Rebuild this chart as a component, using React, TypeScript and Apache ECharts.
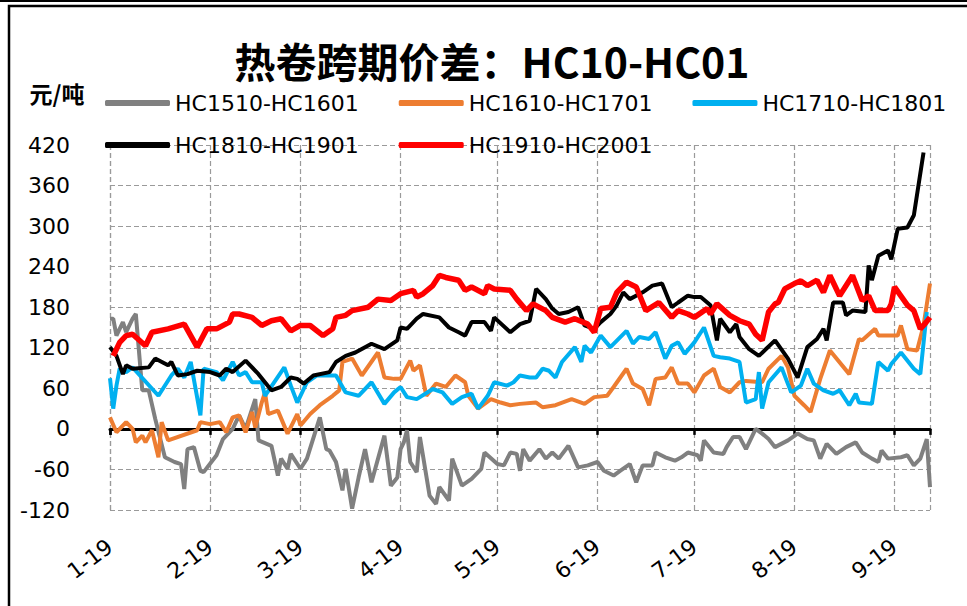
import React, { useEffect, useRef } from "react";
import * as echarts from "echarts";

// x values: day offset from 1 Jan (all contracts plotted on a common month-day axis, labelled as 2019)
const monthLabels = ["1-19", "2-19", "3-19", "4-19", "5-19", "6-19", "7-19", "8-19", "9-19"];
const seriesNames = ["HC1510-HC1601", "HC1610-HC1701", "HC1710-HC1801", "HC1810-HC1901", "HC1910-HC2001"];
const seriesColors = ["#808080", "#ED7D31", "#00B0F0", "#000000", "#FF0000"];
const yTicks = { min: -120, max: 420, step: 60 };
const axisEndDay = 254;

const hc1510: [number, number][] = [
  [0, 163], [1, 163], [2, 138], [4, 158], [5, 143], [7, 163], [8, 170], [10, 57], [12, 57], [14, 15],
  [17, -42], [20, -49], [22, -52], [23, -89], [24, -30], [26, -27], [28, -62], [29, -64], [33, -39], [35, -15],
  [38, 0], [40, 20], [42, 0], [45, 44], [46, -17], [50, -25], [52, -69], [53, -44], [55, -59], [56, -37],
  [59, -59], [61, -44], [65, 17], [67, -30], [68, -32], [70, -49], [72, -91], [73, -59], [75, -118], [77, -72],
  [79, -30], [81, -79], [85, -10], [87, -84], [89, -72], [90, -30], [91, -20], [92, -2], [93, -49], [95, -64],
  [96, -12], [99, -99], [101, -111], [102, -86], [105, -106], [106, -44], [109, -84], [112, -74], [115, -59], [116, -35],
  [120, -52], [122, -54], [124, -35], [126, -37], [127, -62], [128, -30], [130, -47], [133, -30], [135, -44], [137, -35],
  [139, -44], [142, -25], [145, -57], [148, -54], [151, -49], [153, -62], [156, -69], [158, -62], [161, -52], [163, -79],
  [165, -54], [168, -54], [169, -35], [172, -42], [175, -47], [177, -42], [179, -35], [182, -39], [183, -47], [184, -17],
  [187, -35], [190, -37], [191, -27], [193, -12], [195, -12], [197, -30], [200, 0], [202, -7], [204, -15], [206, -27],
  [210, -17], [213, -7], [216, -15], [218, -17], [220, -44], [222, -22], [225, -37], [228, -27], [231, -20], [233, -35],
  [236, -44], [238, -49], [239, -32], [241, -44], [245, -42], [247, -39], [249, -54], [251, -44], [253, -15], [254, -86],
];

const hc1610: [number, number][] = [
  [0, 17], [2, -5], [3, 0], [5, 10], [7, 0], [8, -20], [10, -10], [11, -20], [13, -2], [15, -42],
  [16, 10], [18, -17], [27, -2], [28, 10], [31, 7], [34, 10], [36, -5], [38, 17], [40, 20], [42, -5],
  [44, 25], [45, 2], [47, 39], [48, 54], [49, 22], [52, 27], [55, -7], [58, 22], [59, 5], [62, 22],
  [65, 35], [69, 49], [71, 57], [72, 99], [75, 104], [78, 79], [83, 113], [85, 76], [88, 74], [90, 74],
  [93, 101], [94, 86], [96, 94], [98, 49], [101, 67], [104, 62], [107, 79], [110, 69], [111, 49], [114, 30],
  [118, 44], [121, 39], [124, 35], [127, 37], [132, 39], [134, 32], [138, 35], [143, 44], [147, 37], [150, 47],
  [154, 49], [156, 62], [160, 89], [162, 67], [165, 59], [167, 35], [169, 74], [172, 76], [174, 91], [176, 67],
  [179, 67], [181, 54], [184, 79], [187, 89], [189, 62], [192, 54], [195, 69], [197, 71], [202, 69], [204, 89],
  [208, 108], [210, 91], [212, 49], [215, 35], [217, 25], [220, 74], [223, 116], [229, 81], [232, 133], [233, 131],
  [237, 148], [238, 138], [244, 138], [245, 153], [247, 118], [250, 116], [252, 153], [254, 215],
];

const hc1710: [number, number][] = [
  [0, 75], [1, 30], [2, 64], [3, 89], [5, 84], [7, 91], [15, 49], [19, 79], [21, 89], [23, 76],
  [25, 99], [28, 20], [29, 89], [33, 84], [35, 72], [38, 99], [40, 79], [42, 84], [44, 69], [47, 69],
  [48, 49], [54, 91], [56, 64], [58, 39], [61, 69], [64, 79], [67, 79], [70, 79], [73, 54], [77, 49],
  [81, 69], [85, 37], [88, 54], [90, 62], [92, 47], [95, 44], [100, 59], [103, 54], [106, 37], [109, 47],
  [112, 52], [114, 30], [117, 49], [119, 69], [123, 64], [125, 69], [127, 79], [130, 76], [132, 76], [134, 89],
  [136, 86], [138, 76], [140, 99], [144, 121], [146, 99], [147, 123], [149, 113], [152, 138], [155, 121], [160, 145],
  [162, 126], [164, 136], [167, 133], [169, 143], [172, 104], [174, 123], [176, 128], [178, 111], [181, 128], [184, 150],
  [187, 108], [189, 106], [192, 104], [195, 99], [197, 39], [200, 44], [201, 84], [202, 30], [204, 69], [208, 91],
  [211, 54], [214, 64], [216, 89], [218, 67], [221, 57], [224, 52], [226, 57], [229, 35], [231, 52], [232, 39],
  [236, 37], [238, 99], [241, 86], [242, 96], [245, 113], [249, 89], [251, 81], [253, 173],
];

const hc1810: [number, number][] = [
  [0, 121], [2, 108], [4, 81], [5, 94], [7, 89], [12, 91], [14, 104], [18, 94], [19, 99], [21, 79],
  [24, 81], [27, 86], [31, 84], [34, 79], [36, 89], [38, 84], [42, 101], [46, 81], [50, 57], [53, 62],
  [56, 76], [58, 74], [60, 67], [63, 79], [68, 84], [70, 99], [73, 108], [76, 113], [81, 126], [85, 118],
  [89, 131], [90, 150], [92, 148], [95, 163], [97, 170], [102, 165], [105, 150], [108, 143], [110, 138], [112, 158],
  [116, 158], [118, 145], [119, 165], [124, 143], [127, 155], [130, 160], [132, 207], [135, 192], [137, 178], [139, 170],
  [142, 173], [145, 180], [147, 153], [150, 148], [152, 158], [155, 170], [157, 183], [159, 202], [161, 192], [165, 202],
  [168, 212], [171, 215], [174, 180], [176, 187], [179, 197], [181, 195], [183, 195], [186, 183], [188, 131], [189, 163],
  [192, 143], [194, 155], [195, 136], [198, 118], [201, 108], [206, 131], [210, 104], [213, 76], [216, 121], [219, 133],
  [221, 148], [222, 131], [224, 187], [227, 187], [228, 168], [230, 175], [234, 173], [235, 242], [236, 220], [238, 256],
  [241, 264], [242, 251], [244, 296], [247, 298], [249, 316], [252, 409],
];

const hc1910: [number, number][] = [
  [1, 108], [3, 128], [5, 138], [7, 140], [11, 123], [13, 143], [18, 148], [23, 155], [27, 121], [30, 148],
  [33, 148], [37, 158], [38, 170], [40, 170], [44, 165], [47, 153], [50, 160], [53, 163], [56, 145], [59, 153],
  [62, 153], [66, 138], [69, 148], [70, 165], [73, 168], [75, 175], [80, 180], [83, 192], [87, 190], [90, 200],
  [94, 205], [95, 195], [97, 200], [100, 212], [102, 227], [104, 224], [108, 220], [110, 205], [112, 210], [116, 200],
  [117, 212], [119, 207], [124, 205], [126, 192], [129, 175], [131, 185], [135, 175], [137, 165], [141, 158], [144, 163],
  [148, 155], [150, 143], [152, 178], [155, 180], [157, 202], [160, 217], [163, 210], [166, 175], [170, 187], [174, 165],
  [176, 175], [179, 170], [181, 165], [185, 178], [186, 170], [188, 185], [192, 168], [195, 160], [198, 155], [200, 140],
  [202, 131], [204, 173], [206, 185], [207, 187], [209, 207], [212, 215], [214, 219], [216, 212], [219, 220], [221, 202],
  [223, 227], [226, 197], [230, 227], [233, 190], [235, 197], [237, 175], [241, 175], [242, 185], [243, 210], [247, 183],
  [249, 175], [251, 148], [252, 153], [254, 165],
];

const allSeries = [hc1510, hc1610, hc1710, hc1810, hc1910];
const lineWidths = [4, 4, 4, 4, 5.5];

const toTime = (d: number) => new Date(2019, 0, 1 + d).getTime();

export default function App() {
  const ref = useRef<HTMLDivElement>(null);
  useEffect(() => {
    if (!ref.current) return;
    const chart = echarts.init(ref.current, undefined, { renderer: "svg" });
    const xMin = toTime(0);
    const xMax = toTime(axisEndDay);
    const labelFor = (v: number) => {
      const m = new Date(v).getMonth();
      return monthLabels[m] ?? "";
    };
    const axisFont = "DejaVu Sans";
    chart.setOption({
      animation: false,
      backgroundColor: "#ffffff",
      graphic: [
        { type: "line", shape: { x1: 0, y1: 1, x2: 967, y2: 1 }, style: { stroke: "#000", lineWidth: 2 } },
        { type: "rect", shape: { x: 9, y: 6, width: 990, height: 640 }, style: { fill: "none", stroke: "#000", lineWidth: 2.5 } },
        {
          type: "text",
          x: 492,
          y: 60,
          style: {
            text: "热卷跨期价差：HC10-HC01",
            fontSize: 41,
            fontWeight: "bold",
            fontFamily: "Noto Sans CJK SC",
            fill: "#000",
            align: "center",
            verticalAlign: "middle",
            textAlign: "center",
            textVerticalAlign: "middle",
          },
        },
        {
          type: "text",
          x: 57,
          y: 93,
          style: {
            text: "元/吨",
            fontSize: 23,
            fontWeight: "bold",
            fontFamily: "Noto Sans CJK SC",
            fill: "#000",
            align: "center",
            verticalAlign: "middle",
            textAlign: "center",
            textVerticalAlign: "middle",
          },
        },
      ],
      legend: [
        {
          data: seriesNames.slice(0, 3),
          left: 100,
          top: 87,
          icon: "roundRect",
          itemWidth: 65,
          itemHeight: 6,
          itemGap: 40,
          textStyle: { fontSize: 22, fontFamily: axisFont, color: "#000" },
        },
        {
          data: seriesNames.slice(3),
          left: 100,
          top: 129,
          icon: "roundRect",
          itemWidth: 65,
          itemHeight: 6,
          itemGap: 40,
          textStyle: { fontSize: 22, fontFamily: axisFont, color: "#000" },
        },
      ],
      grid: { left: 110, right: 37, top: 145, bottom: 96 },
      xAxis: [
        {
          type: "time",
          min: xMin,
          max: xMax,
          minInterval: 28 * 86400000,
          maxInterval: 31 * 86400000,
          position: "bottom",
          axisLine: { show: false, onZero: false },
          axisTick: { show: false },
          axisLabel: {
            formatter: labelFor,
            rotate: 37,
            margin: 34,
            fontSize: 22,
            fontFamily: axisFont,
            color: "#000",
            showMaxLabel: false,
          },
          splitLine: { show: true, lineStyle: { type: [5, 3], color: "#9a9a9a", width: 1.2 } },
        },
        {
          type: "time",
          min: xMin,
          max: xMax,
          minInterval: 28 * 86400000,
          maxInterval: 31 * 86400000,
          position: "top",
          axisLine: { show: true, onZero: true, onZeroAxisIndex: 0, lineStyle: { color: "#000", width: 3 } },
          axisTick: { show: true, inside: true, length: 6, lineStyle: { color: "#000", width: 2.5 } },
          axisLabel: { show: false },
          splitLine: { show: false },
        },
      ],
      yAxis: {
        type: "value",
        min: yTicks.min,
        max: yTicks.max,
        interval: yTicks.step,
        axisLine: { show: false },
        axisTick: { show: false },
        axisLabel: { fontSize: 22, fontFamily: axisFont, color: "#000", margin: 40 },
        splitLine: { show: true, lineStyle: { type: [5, 3], color: "#9a9a9a", width: 1.2 } },
      },
      series: allSeries.map((s, i) => ({
        name: seriesNames[i],
        type: "line",
        xAxisIndex: 0,
        showSymbol: false,
        symbol: "none",
        data: s.map(([d, v]) => [toTime(d), v]),
        lineStyle: { color: seriesColors[i], width: lineWidths[i] },
        itemStyle: { color: seriesColors[i] },
        z: 2 + i,
      })),
    });
    return () => chart.dispose();
  }, []);
  return (
    <div
      ref={ref}
      style={{ position: "fixed", left: 0, top: 0, width: 967, height: 606, background: "#fff" }}
    />
  );
}
